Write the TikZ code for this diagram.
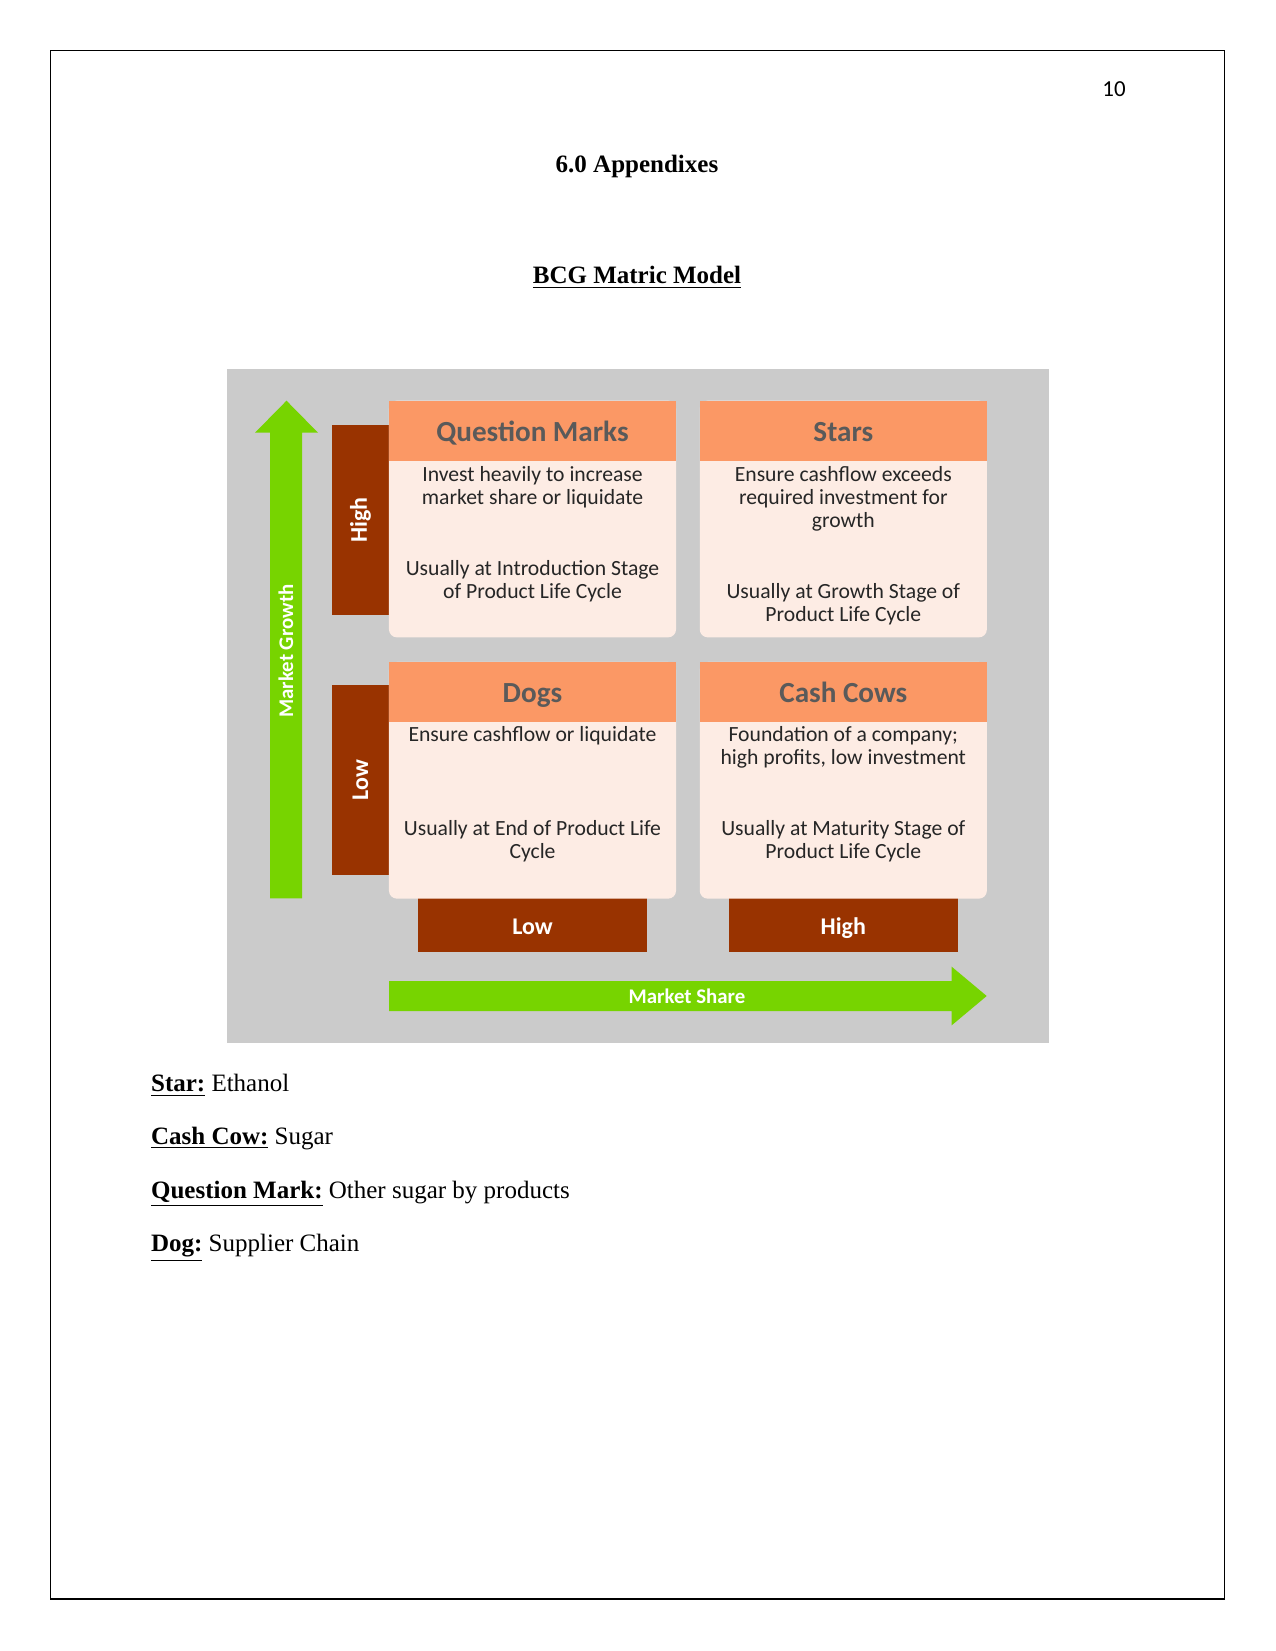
\documentclass[tikz,border=0pt]{standalone}
\usepackage{fontspec}
\setmainfont{Liberation Serif}
\newfontfamily\calibri{Carlito}
\definecolor{panelgray}{RGB}{203,203,203}
\definecolor{headorange}{RGB}{251,152,101}
\definecolor{bodypeach}{RGB}{253,236,228}
\definecolor{rustbrown}{RGB}{153,51,0}
\definecolor{arrowgreen}{RGB}{119,212,0}
\definecolor{titlegray}{RGB}{90,90,90}
\definecolor{inkdark}{RGB}{38,38,38}

\begin{document}
\begin{tikzpicture}[x=0.48pt, y=-0.48pt,
      quad/.style={fill=bodypeach, rounded corners=3.8pt, inner sep=0pt,
                   minimum width=137.8pt, minimum height=113.6pt},
      qhead/.style={fill=headorange, inner sep=0pt, anchor=north,
                    minimum width=137.8pt, minimum height=28.8pt,
                    text height=10.4pt, text depth=0pt,
                    font=\calibri\bfseries\fontsize{14}{16}\selectfont, text=titlegray},
      qtext/.style={align=center, inner sep=0pt, text=inkdark,
                    font=\calibri\fontsize{10.4}{11.1}\selectfont},
      sidebox/.style={fill=rustbrown, text=white, inner sep=0pt,
                      minimum width=27.4pt, minimum height=91.4pt,
                      font=\calibri\bfseries\fontsize{11.5}{13}\selectfont},
      footbox/.style={fill=rustbrown, text=white, inner sep=0pt,
                      minimum width=109.9pt, minimum height=25.9pt,
                      text height=8.4pt, text depth=0pt,
                      font=\calibri\bfseries\fontsize{11.5}{13}\selectfont},
      axislab/.style={text=white, inner sep=0pt,
                      font=\calibri\bfseries\fontsize{10}{11}\selectfont},
      item/.style={anchor=base west, inner sep=0pt, font=\fontsize{12}{14}\selectfont}
    ]
    \useasboundingbox (0,0) rectangle (1275,1651);
    \draw[line width=0.6pt] (50.5,50.5) rectangle (1224.5,1599);
    \node[inner sep=0pt, font=\calibri\fontsize{11}{13}\selectfont] (pageno) at (1114,89.5) {10};
    \node[anchor=base, inner sep=0pt, font=\fontsize{12}{14}\selectfont] (appx) at (637,173) {\textbf{6.0 Appendixes}};
    \node[anchor=base, inner sep=0pt, font=\fontsize{12}{14}\selectfont] (bcg) at (637,284) {\underline{\textbf{BCG Matric Model}}};

    \fill[panelgray] (226.5,368.5) rectangle (1048.5,1042.5);

    \fill[arrowgreen] (270,898.3) -- (270,432.7) -- (255,432.7) -- (286.5,400.7)
      -- (318,432.7) -- (302,432.7) -- (302,898.3) -- cycle;
    \node[axislab, rotate=90] (growth) at (286,651) {Market Growth};
    \fill[arrowgreen] (389,981) -- (951.7,981) -- (951.7,966.7) -- (986.7,996)
      -- (951.7,1025.3) -- (951.7,1011) -- (389,1011) -- cycle;
    \node[axislab] (share) at (687,996) {Market Share};

    \node[sidebox] (hi) at (360.5,520) {\rotatebox{90}{High}};
    \node[sidebox] (lo) at (360.5,780.2) {\rotatebox{90}{Low}};
    \node[footbox] (shlo) at (532.5,925.3) {Low};
    \node[footbox] (shhi) at (843.3,925.3) {High};

    \node[quad] (qm) at (532.5,519) {};
    \node[qhead] (qmh) at (qm.north) {Question Marks};
    \node[qtext] (qm1) at (532.5,487.5) {Invest heavily to increase\\market share or liquidate};
    \node[qtext] (qm2) at (532.5,581.1) {Usually at Introduction Stage\\of Product Life Cycle};

    \node[quad] (st) at (843.3,519) {};
    \node[qhead] (sth) at (st.north) {Stars};
    \node[qtext] (st1) at (843.3,499.1) {Ensure cashflow exceeds\\required investment for\\growth};
    \node[qtext] (st2) at (843.3,604.3) {Usually at Growth Stage of\\Product Life Cycle};

    \node[quad] (dg) at (532.5,780.3) {};
    \node[qhead] (dgh) at (dg.north) {Dogs};
    \node[qtext] (dg1) at (532.5,735.9) {Ensure cashflow or liquidate};
    \node[qtext] (dg2) at (532.5,841.1) {Usually at End of Product Life\\Cycle};

    \node[quad] (cc) at (843.3,780.3) {};
    \node[qhead] (cch) at (cc.north) {Cash Cows};
    \node[qtext] (cc1) at (843.3,747.5) {Foundation of a company;\\high profits, low investment};
    \node[qtext] (cc2) at (843.3,841.1) {Usually at Maturity Stage of\\Product Life Cycle};

    \node[item] (star) at (150.7,1091.7) {\underline{\textbf{Star:}} Ethanol};
    \node[item] (cow) at (150.7,1144.3) {\underline{\textbf{Cash Cow:}} Sugar};
    \node[item] (qmark) at (150.7,1198.3) {\underline{\textbf{Question Mark:}} Other sugar by products};
    \node[item] (dog) at (150.7,1251.7) {\underline{\textbf{Dog:}} Supplier Chain};
  \end{tikzpicture}
\end{document}
